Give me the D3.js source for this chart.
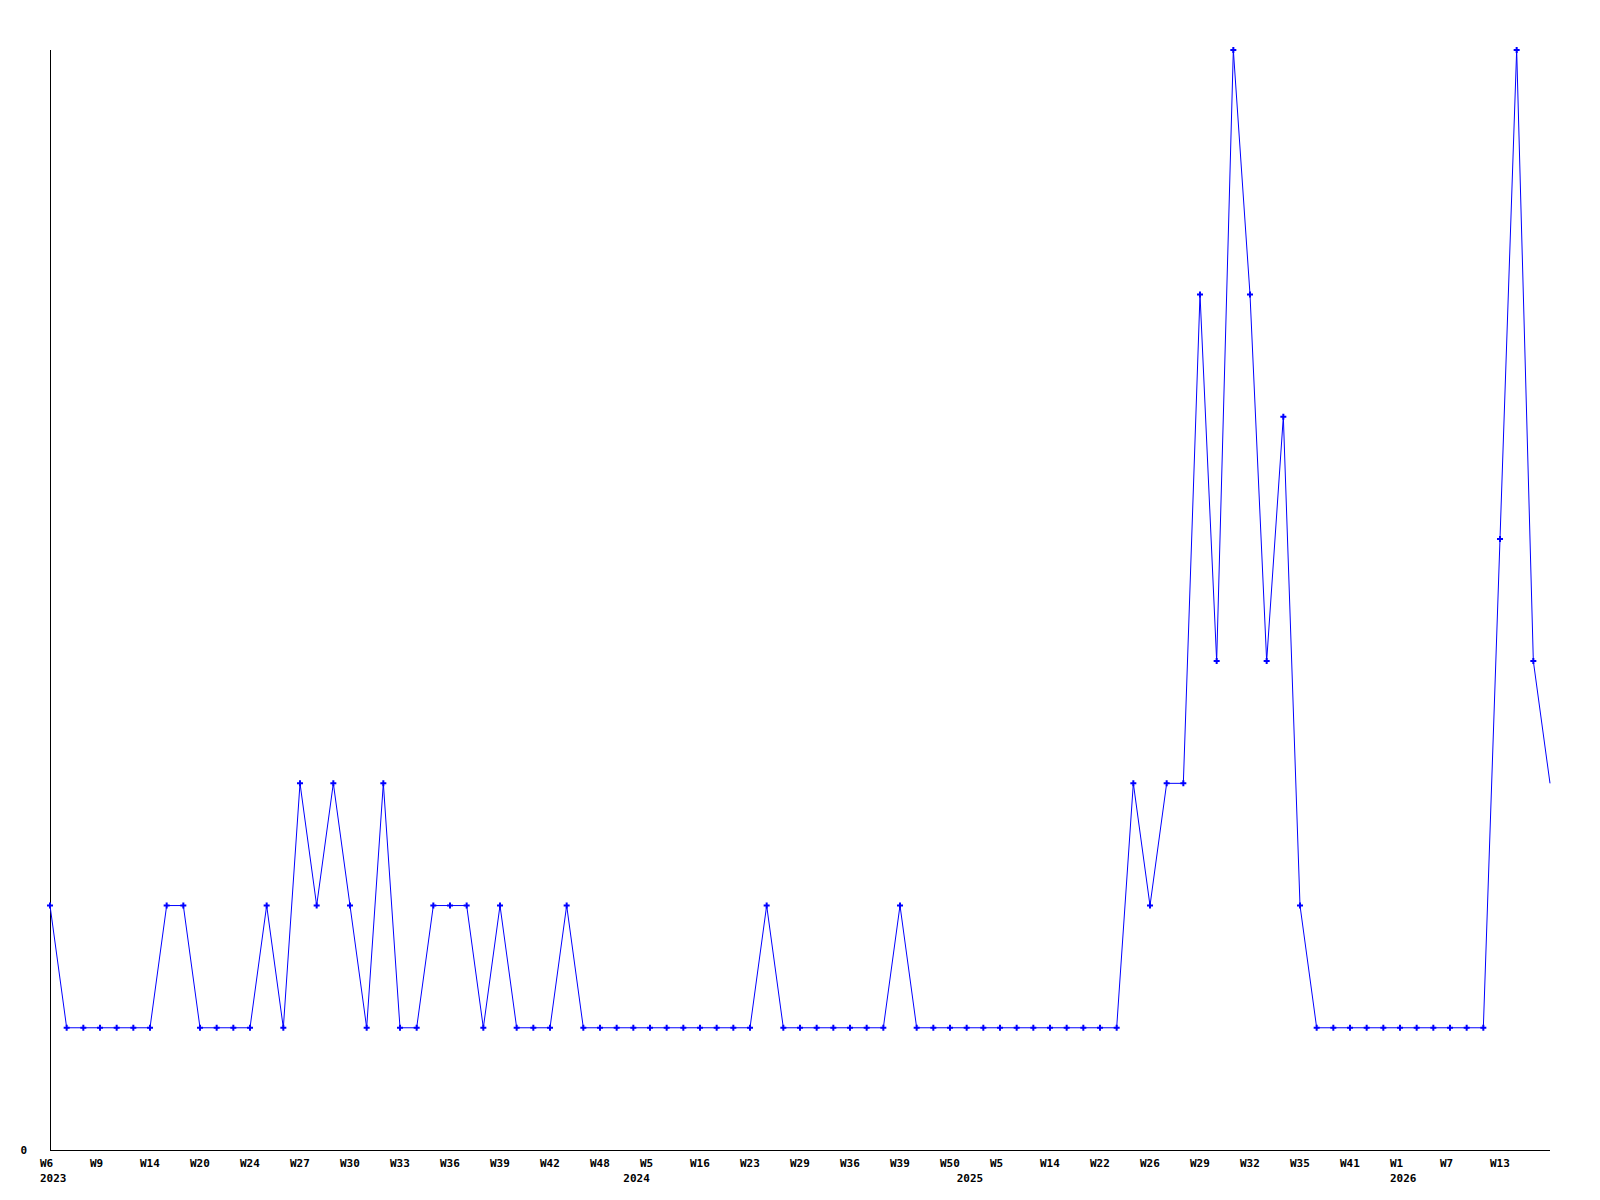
<!DOCTYPE html>
<html>
<head>
<meta charset="utf-8">
<script src="https://cdn.jsdelivr.net/npm/d3@7"></script>
<style>
  html, body { margin: 0; padding: 0; background: #fff; }
  svg text { font-family: "DejaVu Sans Mono", monospace; font-weight: bold; font-size: 11px; fill: #000; }
</style>
</head>
<body>
<div id="chart"></div>
<script>
// weekly counts, one point per week that has data (gaps are skipped)
var counts = [
    2, 1, 1, 1, 1, 1, 1, 2, 2, 1,
    1, 1, 1, 2, 1, 3, 2, 3, 2, 1,
    3, 1, 1, 2, 2, 2, 1, 2, 1, 1,
    1, 2, 1, 1, 1, 1, 1, 1, 1, 1,
    1, 1, 1, 2, 1, 1, 1, 1, 1, 1,
    1, 2, 1, 1, 1, 1, 1, 1, 1, 1,
    1, 1, 1, 1, 1, 3, 2, 3, 3, 7,
    4, 9, 7, 4, 6, 2, 1, 1, 1, 1,
    1, 1, 1, 1, 1, 1, 1, 5, 9, 4,
    3
];

// week labels shown on every third point
var weekLabels = [
    'W6', 'W9', 'W14', 'W20', 'W24', 'W27', 'W30', 'W33', 'W36', 'W39',
    'W42', 'W48', 'W5', 'W16', 'W23', 'W29', 'W36', 'W39', 'W50', 'W5',
    'W14', 'W22', 'W26', 'W29', 'W32', 'W35', 'W41', 'W1', 'W7', 'W13'
];
var labelStep = 3;

// year labels and the index of the first point of each year
var years = ['2023', '2024', '2025', '2026'];
var yearStart = [0, 35, 55, 81];

var yMax = 9;

var width = 1600, height = 1200;
var margin = { top: 50, right: 50, bottom: 50, left: 50 };

var svg = d3.select('#chart').append('svg')
    .attr('width', width)
    .attr('height', height);

var idx = d3.range(counts.length);

var x = d3.scalePoint()
    .domain(idx)
    .range([margin.left, width - margin.right]);

var y = d3.scaleLinear()
    .domain([0, yMax])
    .range([height - margin.bottom, margin.top]);

// axes lines
svg.append('line')
    .attr('x1', margin.left).attr('x2', margin.left)
    .attr('y1', y(yMax)).attr('y2', y(0))
    .attr('stroke', '#000')
    .attr('shape-rendering', 'crispEdges');

svg.append('line')
    .attr('x1', margin.left).attr('x2', width - margin.right)
    .attr('y1', y(0)).attr('y2', y(0))
    .attr('stroke', '#000')
    .attr('shape-rendering', 'crispEdges');

// only the zero label on y
svg.append('text')
    .attr('x', margin.left - 23)
    .attr('y', y(0) + 4)
    .attr('text-anchor', 'end')
    .text('0');

// week labels
svg.selectAll('.week-label')
    .data(weekLabels)
    .enter()
    .append('text')
    .attr('class', 'week-label')
    .attr('x', function(d, i) { return x(i * labelStep) - 10; })
    .attr('y', y(0) + 17)
    .text(function(d) { return d; });

// year labels
svg.selectAll('.year-label')
    .data(years)
    .enter()
    .append('text')
    .attr('class', 'year-label')
    .attr('x', function(d, i) { return x(yearStart[i]) - 10; })
    .attr('y', y(0) + 32)
    .text(function(d) { return d; });

// the line
var line = d3.line()
    .x(function(d, i) { return x(i); })
    .y(function(d) { return y(d); });

svg.append('path')
    .datum(counts)
    .attr('fill', 'none')
    .attr('stroke', '#0000ff')
    .attr('stroke-width', 1)
    .attr('d', line);

// markers (the last, partial week has none)
var marker = d3.symbol().type(d3.symbolCross).size(20);

svg.selectAll('.pt')
    .data(counts.slice(0, counts.length - 1))
    .enter()
    .append('path')
    .attr('class', 'pt')
    .attr('d', marker)
    .attr('transform', function(d, i) { return 'translate(' + x(i) + ',' + y(d) + ')'; })
    .attr('fill', '#0000ff');
</script>
</body>
</html>
